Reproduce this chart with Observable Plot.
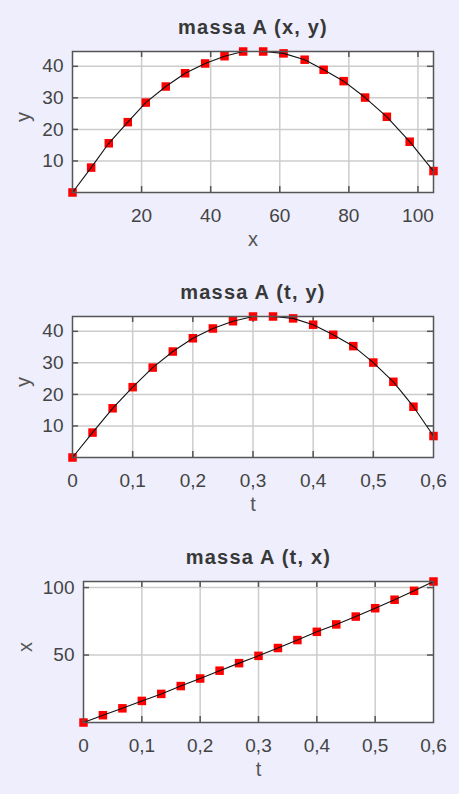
<!DOCTYPE html>
<html>
<head>
<meta charset="utf-8">
<script src="https://cdn.jsdelivr.net/npm/d3@7"></script>
<script src="https://cdn.jsdelivr.net/npm/@observablehq/plot@0.6"></script>
<style>
  html, body { margin: 0; padding: 0; background: #eeeefc; }
  #chart { position: relative; width: 459px; height: 794px; overflow: hidden; background: #eeeefc; }
  #chart .panel { position: absolute; left: 0; }
  #chart svg { display: block; background: transparent; overflow: visible; }
  #chart [font-weight="bold"] { letter-spacing: 1.2px; }
</style>
</head>
<body>
<div id="chart"></div>
<script>
// Sampled trajectory of mass A: time (s), horizontal position x, height y
const tValues = [0, 0.0333, 0.0667, 0.1, 0.1333, 0.1667, 0.2, 0.2333, 0.2667, 0.3,
                 0.3333, 0.3667, 0.4, 0.4333, 0.4667, 0.5, 0.5333, 0.5667, 0.6];
const xValues = [0, 5.4, 10.5, 16.0, 21.2, 27.0, 32.6, 38.4, 44.0, 49.4,
                 55.2, 61.1, 67.2, 72.7, 78.5, 84.7, 91.0, 97.6, 104.5];
const yValues = [0, 7.9, 15.6, 22.3, 28.5, 33.6, 37.8, 40.9, 43.2, 44.7,
                 44.7, 44.1, 42.1, 38.9, 35.3, 30.1, 24.0, 16.1, 6.8];

// Tick values for each axis
const xPosTicks = [20, 40, 60, 80, 100];
const tTicks = [0, 0.1, 0.2, 0.3, 0.4, 0.5, 0.6];
const tGrid = [0.1, 0.2, 0.3, 0.4, 0.5];
const yTicks = [10, 20, 30, 40];
const xTicksSide = [50, 100];

const titles = ["massa A (x, y)", "massa A (t, y)", "massa A (t, x)"];

const rows = tValues.map((t, i) => ({t, x: xValues[i], y: yValues[i]}));
const commaFormat = d => String(d).replace(".", ",");

function panel({title, xKey, yKey, xTicks, xGrid, yTicksList, xFormat, xLabel, yLabel, marginLeft, yLabelX, top}) {
  const W = 459, H = 252, mt = 51, mb = 60, mr = 26;
  const fw = W - marginLeft - mr, fh = H - mt - mb;
  const tick = 6;
  const frameInk = "#555";
  const svg = Plot.plot({
    width: W, height: H,
    marginTop: mt, marginBottom: mb, marginLeft, marginRight: mr,
    x: {domain: [0, d3.max(rows, d => d[xKey])], label: null},
    y: {domain: [0, d3.max(rows, d => d[yKey])], label: null},
    style: {fontFamily: "'Liberation Sans', Arial, sans-serif", fontSize: "19px", color: "#444", background: "transparent"},
    marks: [
      Plot.frame({fill: "white", stroke: null}),
      Plot.gridX(xGrid, {stroke: "#cccccc", strokeOpacity: 1, strokeWidth: 1.5}),
      Plot.gridY(yTicksList, {stroke: "#cccccc", strokeOpacity: 1, strokeWidth: 1.5}),
      // short inward ticks on all four sides of the frame
      Plot.ruleX(xGrid, {x: d => d, insetTop: fh - tick, stroke: frameInk, strokeWidth: 1.5}),
      Plot.ruleX(xGrid, {x: d => d, insetBottom: fh - tick, stroke: frameInk, strokeWidth: 1.5}),
      Plot.ruleY(yTicksList, {y: d => d, insetRight: fw - tick, stroke: frameInk, strokeWidth: 1.5}),
      Plot.ruleY(yTicksList, {y: d => d, insetLeft: fw - tick, stroke: frameInk, strokeWidth: 1.5}),
      Plot.axisX(xTicks, {tickSize: 0, tickPadding: 16, tickFormat: xFormat, label: null}),
      Plot.axisY(yTicksList, {tickSize: 0, tickPadding: 9, label: null}),
      Plot.dot(rows, {x: xKey, y: yKey, symbol: "square", r: 4.8, fill: "#ff0000", stroke: null}),
      Plot.line(rows, {x: xKey, y: yKey, stroke: "#111", strokeWidth: 1.1}),
      Plot.frame({stroke: frameInk, strokeWidth: 1.5}),
      Plot.text([title], {text: d => d, frameAnchor: "top", dy: -18, lineAnchor: "bottom",
                          fontWeight: "bold", fontSize: 20, fill: "#383838"}),
      Plot.text([xLabel], {text: d => d, frameAnchor: "bottom", dy: 53, lineAnchor: "bottom",
                           fontSize: 20, fill: "#555"}),
      Plot.text([yLabel], {text: d => d, frameAnchor: "left", dx: yLabelX - marginLeft, rotate: -90,
                           lineAnchor: "middle", fontSize: 20, fill: "#555"})
    ]
  });
  const div = document.createElement("div");
  div.className = "panel";
  div.style.top = top + "px";
  div.appendChild(svg);
  document.getElementById("chart").appendChild(div);
}

panel({title: titles[0], xKey: "x", yKey: "y", xTicks: xPosTicks, xGrid: xPosTicks, yTicksList: yTicks,
       xFormat: d => String(d), xLabel: "x", yLabel: "y", marginLeft: 72, yLabelX: 23, top: 0});
panel({title: titles[1], xKey: "t", yKey: "y", xTicks: tTicks, xGrid: tGrid, yTicksList: yTicks,
       xFormat: commaFormat, xLabel: "t", yLabel: "y", marginLeft: 72, yLabelX: 23, top: 265});
panel({title: titles[2], xKey: "t", yKey: "x", xTicks: tTicks, xGrid: tGrid, yTicksList: xTicksSide,
       xFormat: commaFormat, xLabel: "t", yLabel: "x", marginLeft: 83, yLabelX: 25, top: 530});
</script>
</body>
</html>
